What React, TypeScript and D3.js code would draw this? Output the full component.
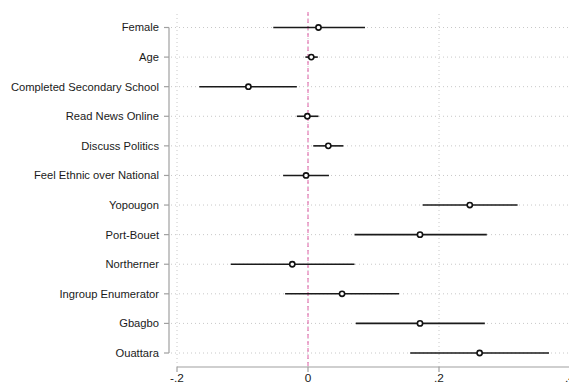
import React from "react";
import * as d3 from "d3";

const categories = [
  "Female",
  "Age",
  "Completed Secondary School",
  "Read News Online",
  "Discuss Politics",
  "Feel Ethnic over National",
  "Yopougon",
  "Port-Bouet",
  "Northerner",
  "Ingroup Enumerator",
  "Gbagbo",
  "Ouattara",
];
const estimates = [0.016, 0.005, -0.091, -0.001, 0.031, -0.003, 0.247, 0.171, -0.024, 0.052, 0.171, 0.262];
const lower = [-0.053, -0.004, -0.166, -0.017, 0.008, -0.038, 0.175, 0.071, -0.118, -0.035, 0.073, 0.156];
const upper = [0.087, 0.015, -0.017, 0.016, 0.054, 0.032, 0.32, 0.273, 0.071, 0.139, 0.27, 0.368];
const xTicks = [-0.2, 0, 0.2, 0.4];
const xTickLabels = ["-.2", "0", ".2", ".4"];

const W = 569;
const H = 384;

export default function App() {
  const x = d3.scaleLinear().domain([-0.2, 0.4]).range([177, 570]);
  const y = d3.scalePoint<string>().domain(categories).range([27.5, 353]);
  const axisColor = "#a0a0a0";
  const gridColor = "#c8c8c8";
  const font = "'Liberation Sans', Arial, Helvetica, sans-serif";
  const axisX = 367;
  const axisY = 169;
  return (
    <svg width={W} height={H} style={{ position: "absolute", left: 0, top: 0, background: "#fff" }}>
      {xTicks.map((t, i) => (
        <line key={"vg" + i} x1={x(t)} x2={x(t)} y1={14} y2={axisX} stroke={gridColor} strokeWidth={1} strokeDasharray="1,3" />
      ))}
      {categories.map((c) => (
        <line key={"hg" + c} x1={axisY + 2} x2={W} y1={y(c)} y2={y(c)} stroke={gridColor} strokeWidth={1} strokeDasharray="1,3" />
      ))}
      <line x1={x(0)} x2={x(0)} y1={12} y2={axisX} stroke="#e05fa6" strokeWidth={1} strokeDasharray="4,3" />
      {categories.map((c, i) => (
        <line key={"ci" + c} x1={x(lower[i])} x2={x(upper[i])} y1={y(c)} y2={y(c)} stroke="#1a1a1a" strokeWidth={1.6} />
      ))}
      {categories.map((c, i) => (
        <circle key={"pt" + c} cx={x(estimates[i])} cy={y(c)} r={2.6} fill="#fff" stroke="#111" strokeWidth={1.6} />
      ))}
      <line x1={axisY} x2={axisY} y1={y(categories[0])} y2={y(categories[categories.length - 1])} stroke={axisColor} strokeWidth={1.2} />
      {categories.map((c) => (
        <g key={"yt" + c}>
          <line x1={axisY - 5} x2={axisY} y1={y(c)} y2={y(c)} stroke={axisColor} strokeWidth={1.2} />
          <text x={axisY - 10} y={y(c)} dy="0.35em" textAnchor="end" fontFamily={font} fontSize={11.2} fill="#1a1a1a">
            {c}
          </text>
        </g>
      ))}
      <line x1={x(-0.2)} x2={W} y1={axisX} y2={axisX} stroke={axisColor} strokeWidth={1.2} />
      {xTicks.map((t, i) => (
        <g key={"xt" + i}>
          <line x1={x(t)} x2={x(t)} y1={axisX} y2={axisX + 5} stroke={axisColor} strokeWidth={1.2} />
          <text x={x(t)} y={axisX + 15} textAnchor="middle" fontFamily={font} fontSize={11.8} fill="#1a1a1a">
            {xTickLabels[i]}
          </text>
        </g>
      ))}
    </svg>
  );
}
